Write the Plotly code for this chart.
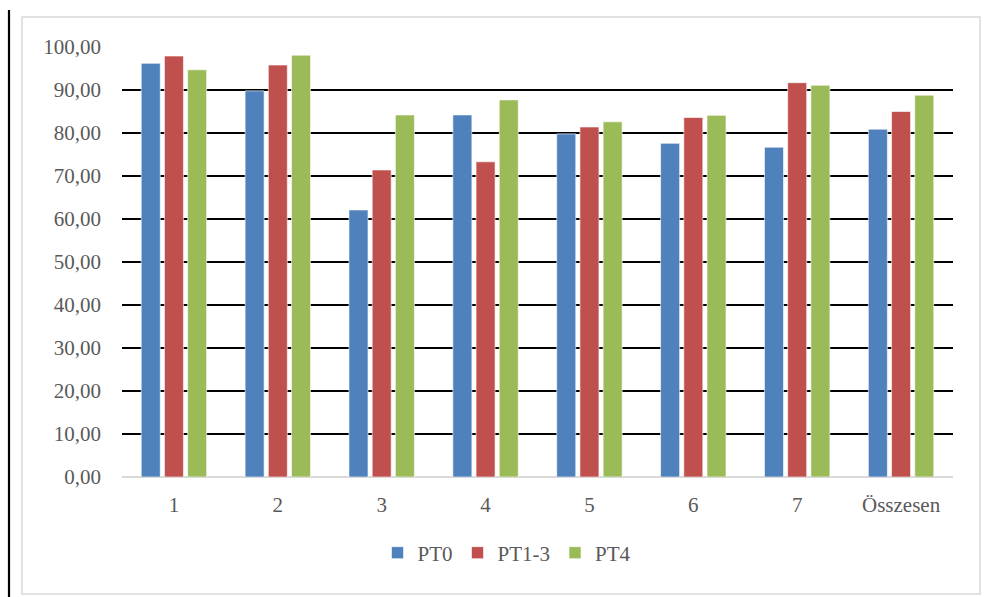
import plotly.graph_objects as go

# Kategóriák és sorozatok
categories = ["1", "2", "3", "4", "5", "6", "7", "Összesen"]
pt0 = [96.2, 89.8, 62.1, 84.2, 79.8, 77.6, 76.7, 80.9]
pt1_3 = [97.9, 95.8, 71.4, 73.3, 81.4, 83.6, 91.7, 85.0]
pt4 = [94.7, 98.1, 84.2, 87.7, 82.6, 84.1, 91.1, 88.8]

series = [("PT0", pt0, "#4F81BD"), ("PT1-3", pt1_3, "#C0504D"), ("PT4", pt4, "#9BBB59")]

W, H = 986, 597
ML, MR, MT, MB = 122, 33, 47, 120
PW, PH = W - ML - MR, H - MT - MB
FONT = "Liberation Serif"
FSIZE = 21


def px(x):
    return (x - ML) / PW


def py(y):
    return (H - MB - y) / PH


fig = go.Figure()
for name, vals, color in series:
    fig.add_trace(go.Bar(
        x=categories, y=vals, name=name,
        marker=dict(color=color, line=dict(color="rgba(255,255,255,0.6)", width=1)),
    ))

fig.update_layout(
    template="none",
    width=W, height=H,
    margin=dict(l=ML, r=MR, t=MT, b=MB),
    paper_bgcolor="white", plot_bgcolor="white",
    barmode="group", bargap=0.33, bargroupgap=0.18,
    font=dict(family=FONT, size=FSIZE, color="#595959"),
    separators=",.",
    showlegend=True,
    legend=dict(orientation="h", x=px(507), xanchor="center", y=py(553), yanchor="middle",
                font=dict(family=FONT, size=FSIZE, color="#595959"),
                traceorder="normal", itemwidth=30),
    xaxis=dict(type="category", showgrid=False, showline=False, ticks="", ticklabelstandoff=13,
               tickfont=dict(family=FONT, size=FSIZE, color="#595959")),
    yaxis=dict(range=[0, 100], tick0=0, dtick=10, tickformat=".2f",
               showgrid=True, gridcolor="black", gridwidth=1.6,
               zeroline=True, zerolinecolor="#D9D9D9", zerolinewidth=1.5,
               showline=False, ticks="", ticklabelstandoff=20,
               tickfont=dict(family=FONT, size=FSIZE, color="#595959")),
    shapes=[
        dict(type="rect", xref="paper", yref="paper",
             x0=px(22), x1=px(980), y0=py(594), y1=py(17),
             line=dict(color="#D9D9D9", width=1.5), fillcolor="rgba(0,0,0,0)", layer="below"),
        dict(type="line", xref="paper", yref="paper",
             x0=px(9), x1=px(9), y0=py(597), y1=py(10),
             line=dict(color="black", width=2.2)),
    ],
)

fig.write_html("out.html")
